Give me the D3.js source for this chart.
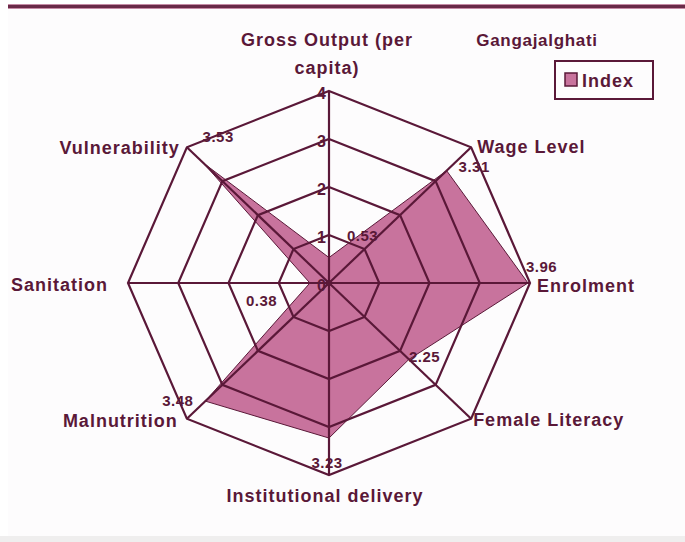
<!DOCTYPE html>
<html>
<head>
<meta charset="utf-8">
<script src="https://cdn.jsdelivr.net/npm/d3@7"></script>
<style>
  body { margin: 0; background: #fff; }
  svg text { font-family: "Liberation Sans", Arial, sans-serif; font-weight: bold; fill: #5a1838; }
</style>
</head>
<body>
<svg id="chart" width="685" height="542"></svg>
<script>
// radar chart of block level indices
var categories = ["Gross Output (per capita)", "Wage Level", "Enrolment", "Female Literacy",
                  "Institutional delivery", "Malnutrition", "Sanitation", "Vulnerability"];
var values = [0.53, 3.31, 3.96, 2.25, 3.23, 3.48, 0.38, 3.53];
var ticks = [0, 1, 2, 3, 4];
var seriesName = "Index";
var title = "Gangajalghati";

var ink = "#5a1838";
var fillCol = "#c8739d";
var cx = 329, cy = 283;

var svg = d3.select("#chart");

// frame bits
svg.append("rect").attr("x", 8).attr("y", 9).attr("width", 677).attr("height", 527).attr("fill", "#fdfcfd");
svg.append("rect").attr("x", 8).attr("y", 4).attr("width", 677).attr("height", 5).attr("fill", "#c58aa5");
svg.append("rect").attr("x", 8).attr("y", 5).attr("width", 677).attr("height", 3).attr("fill", "#6a2a48");
svg.append("rect").attr("x", 0).attr("y", 536).attr("width", 685).attr("height", 6).attr("fill", "#efeeee");

// slightly wider than tall, like the scanned chart
var rx = d3.scaleLinear().domain([0, 4]).range([0, 201]);
var ry = d3.scaleLinear().domain([0, 4]).range([0, 192]);
var ang = d3.scaleLinear().domain([0, categories.length]).range([0, 2 * Math.PI]);

function pt(i, v) {
  var a = ang(i);
  return [cx + rx(v) * Math.sin(a), cy - ry(v) * Math.cos(a)];
}

var g = svg.append("g");

// data polygon
g.append("polygon")
  .attr("points", values.map((v, i) => pt(i, v).join(",")).join(" "))
  .attr("fill", fillCol)
  .attr("stroke", ink)
  .attr("stroke-width", 1)
  .attr("stroke-linejoin", "round");

// grid rings
g.selectAll(".ring").data(ticks.filter(t => t > 0)).enter()
  .append("polygon")
  .attr("class", "ring")
  .attr("points", t => categories.map((c, i) => pt(i, t).join(",")).join(" "))
  .attr("fill", "none")
  .attr("stroke", ink)
  .attr("stroke-width", 2.2);

// spokes
g.selectAll(".spoke").data(categories).enter()
  .append("line")
  .attr("x1", cx).attr("y1", cy)
  .attr("x2", (c, i) => pt(i, 4)[0])
  .attr("y2", (c, i) => pt(i, 4)[1])
  .attr("stroke", ink)
  .attr("stroke-width", 2.2);

g.append("circle").attr("cx", cx).attr("cy", cy).attr("r", 3).attr("fill", ink);

// tick labels along the top spoke
g.selectAll(".tick").data(ticks).enter()
  .append("text")
  .attr("x", cx - 3)
  .attr("y", t => cy - ry(t) + 8)
  .attr("text-anchor", "end")
  .attr("font-size", 16)
  .text(t => t);

// value labels
var valPos = [[18, -17, "start"], [12, 1, "start"], [-2, -11, "start"], [0, 3, "start"],
              [-2, 30, "middle"], [-12, 5, "end"], [-64, 23, "start"], [-1, -21, "start"]];
g.selectAll(".val").data(values).enter()
  .append("text")
  .attr("x", (v, i) => pt(i, v)[0] + valPos[i][0])
  .attr("y", (v, i) => pt(i, v)[1] + valPos[i][1])
  .attr("text-anchor", (v, i) => valPos[i][2])
  .attr("font-size", 15)
  .attr("letter-spacing", 0.5)
  .text(v => v.toFixed(2));

// category labels
var catPos = [[-2, -45, "middle"], [6, 6, "start"], [7, 9, "start"], [2, 7, "start"],
              [-4, 27, "middle"], [-9, 8, "end"], [-20, 8, "end"], [-7, 7, "end"]];
categories.forEach(function(c, i) {
  var p = pt(i, 4);
  var t = g.append("text")
    .attr("x", p[0] + catPos[i][0])
    .attr("y", p[1] + catPos[i][1])
    .attr("text-anchor", catPos[i][2])
    .attr("font-size", 18)
    .attr("letter-spacing", 1);
  if (i == 0) {
    t.append("tspan").attr("x", p[0] + catPos[i][0]).text("Gross Output (per");
    t.append("tspan").attr("x", p[0] + catPos[i][0]).attr("dy", 28).text("capita)");
  } else {
    t.text(c);
  }
});

// title + legend
svg.append("text").attr("x", 537).attr("y", 46).attr("text-anchor", "middle")
  .attr("font-size", 17).attr("letter-spacing", 0.7).text(title);
svg.append("rect").attr("x", 555).attr("y", 61).attr("width", 98).attr("height", 38)
  .attr("fill", "none").attr("stroke", ink).attr("stroke-width", 2);
svg.append("rect").attr("x", 565).attr("y", 73).attr("width", 12).attr("height", 13)
  .attr("fill", fillCol).attr("stroke", ink).attr("stroke-width", 1.5);
svg.append("text").attr("x", 582).attr("y", 87).attr("font-size", 18).attr("letter-spacing", 1).text(seriesName);
</script>
</body>
</html>
